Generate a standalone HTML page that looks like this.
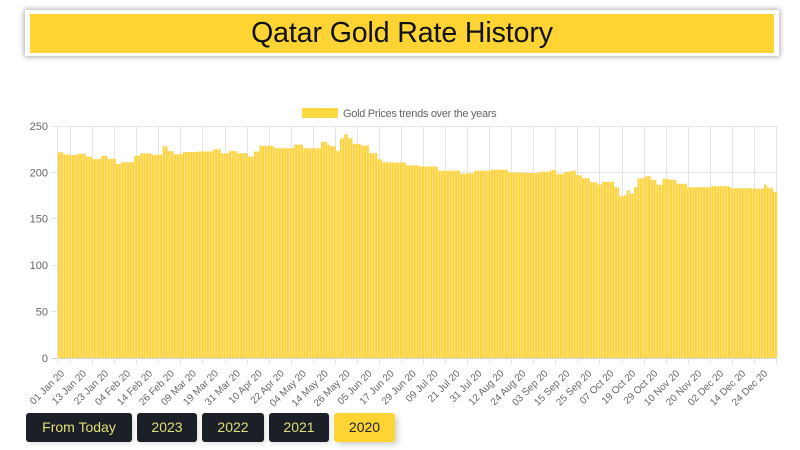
<!DOCTYPE html>
<html>
<head>
<meta charset="utf-8">
<style>
  html,body{margin:0;padding:0;background:#fff;}
  body{width:800px;height:450px;position:relative;overflow:hidden;font-family:"Liberation Sans",Arial,sans-serif;}
  .tbox{position:absolute;left:25px;top:10px;width:754px;height:46px;background:#fff;box-shadow:0 0 5px 1px rgba(0,0,0,0.32);}
  .tin{position:absolute;left:5px;top:4px;width:744px;height:38.5px;background:#fdd433;color:#111;font-size:28.5px;line-height:38px;text-align:center;letter-spacing:-0.1px;}
  .btn{position:absolute;top:413px;height:29px;line-height:29px;text-align:center;font-size:14px;border-radius:3px;background:#1b1f27;color:#e3df78;box-shadow:2px 2px 4px rgba(0,0,0,0.12);}
  .btn.on{background:#fdd433;color:#222;box-shadow:3px 3px 6px rgba(0,0,0,0.18);}
  svg{position:absolute;left:0;top:0;}
</style>
</head>
<body>
<div class="tbox"><div class="tin">Qatar Gold Rate History</div></div>

<svg width="800" height="450" viewBox="0 0 800 450" xmlns="http://www.w3.org/2000/svg">
  <defs>
    <pattern id="bars" x="57.7" y="0" width="2.757" height="20" patternUnits="userSpaceOnUse">
      <rect x="0" y="0" width="2.757" height="20" fill="#fde49a"/>
      <rect x="0.4" y="0" width="1.95" height="20" fill="#fcd43c"/>
    </pattern>
  </defs>
  <!-- legend -->
  <rect x="302" y="108" width="36" height="10" fill="#fcd843"/>
  <text x="343" y="117" font-size="11" fill="#666" font-family="Liberation Sans, Arial, sans-serif" letter-spacing="-0.3">Gold Prices trends over the years</text>

  <!-- horizontal gridlines -->
  <g stroke="#e4e4e4" stroke-width="1">
    <line x1="51" y1="126.5" x2="777" y2="126.5"/>
    <line x1="51" y1="172.5" x2="777" y2="172.5"/>
    <line x1="51" y1="218.5" x2="777" y2="218.5"/>
    <line x1="51" y1="265.5" x2="777" y2="265.5"/>
    <line x1="51" y1="311.5" x2="777" y2="311.5"/>
  </g>
  <line x1="51" y1="358.5" x2="777" y2="358.5" stroke="#d4d4d4" stroke-width="1"/>
  <!-- vertical gridlines -->
  <g stroke="#e4e4e4" stroke-width="1">
    <line x1="57.5" y1="126" x2="57.5" y2="364"/>
    <line x1="70.5" y1="126" x2="70.5" y2="364"/>
    <line x1="92.5" y1="126" x2="92.5" y2="364"/>
    <line x1="114.5" y1="126" x2="114.5" y2="364"/>
    <line x1="136.5" y1="126" x2="136.5" y2="364"/>
    <line x1="158.5" y1="126" x2="158.5" y2="364"/>
    <line x1="180.5" y1="126" x2="180.5" y2="364"/>
    <line x1="202.5" y1="126" x2="202.5" y2="364"/>
    <line x1="225.5" y1="126" x2="225.5" y2="364"/>
    <line x1="247.5" y1="126" x2="247.5" y2="364"/>
    <line x1="269.5" y1="126" x2="269.5" y2="364"/>
    <line x1="291.5" y1="126" x2="291.5" y2="364"/>
    <line x1="313.5" y1="126" x2="313.5" y2="364"/>
    <line x1="335.5" y1="126" x2="335.5" y2="364"/>
    <line x1="357.5" y1="126" x2="357.5" y2="364"/>
    <line x1="379.5" y1="126" x2="379.5" y2="364"/>
    <line x1="401.5" y1="126" x2="401.5" y2="364"/>
    <line x1="423.5" y1="126" x2="423.5" y2="364"/>
    <line x1="445.5" y1="126" x2="445.5" y2="364"/>
    <line x1="467.5" y1="126" x2="467.5" y2="364"/>
    <line x1="489.5" y1="126" x2="489.5" y2="364"/>
    <line x1="511.5" y1="126" x2="511.5" y2="364"/>
    <line x1="533.5" y1="126" x2="533.5" y2="364"/>
    <line x1="555.5" y1="126" x2="555.5" y2="364"/>
    <line x1="577.5" y1="126" x2="577.5" y2="364"/>
    <line x1="599.5" y1="126" x2="599.5" y2="364"/>
    <line x1="622.5" y1="126" x2="622.5" y2="364"/>
    <line x1="644.5" y1="126" x2="644.5" y2="364"/>
    <line x1="666.5" y1="126" x2="666.5" y2="364"/>
    <line x1="688.5" y1="126" x2="688.5" y2="364"/>
    <line x1="710.5" y1="126" x2="710.5" y2="364"/>
    <line x1="732.5" y1="126" x2="732.5" y2="364"/>
    <line x1="754.5" y1="126" x2="754.5" y2="364"/>
    <line x1="776.5" y1="126" x2="776.5" y2="364"/>
  </g>

  <!-- bars -->
  <path fill="url(#bars)" d="M57.7,358 V152.2 H63 V154.5 H70 V155.1 H77.5 V153.8 H86 V156.6 H92 V159.1 H101 V155.7 H107.5 V158.9 H116 V164 H121 V162.2 H134 V155.7 H140 V153.2 H151 V154.8 H162.5 V146.4 H167.5 V151.1 H174 V154.2 H183 V152 H197 V151.5 H213 V149.2 H221 V153.2 H229 V151.1 H237.5 V153.2 H247.5 V156.6 H254 V151.5 H259.5 V145.9 H274 V148.3 H294 V144.6 H303 V148.3 H321 V141.8 H327 V144.9 H330 V146.4 H336 V151.1 H340 V138.2 H344 V134.4 H348 V138.2 H352.5 V143.9 H361 V145.5 H369 V153.2 H377.5 V159.4 H382 V162.2 H390 V162.5 H406 V165.4 H419 V166.5 H438 V170.7 H460 V173.7 H467 V173.3 H474 V170.7 H490 V169.7 H508 V172.4 H523 V173 H540 V171.7 H550 V170.1 H556 V174.1 H564 V171.7 H570 V170.7 H576 V175.2 H582 V178.2 H590 V182.2 H597 V184.5 H602 V181.7 H614 V187.2 H619 V196.2 H624 V194.7 H627 V190.4 H630 V193.7 H634 V187.2 H637.5 V178.2 H645 V176.3 H651 V179.8 H656.5 V184.8 H662.5 V178.9 H670 V179.8 H676.5 V183.8 H687 V187.2 H711 V186.3 H730 V188.2 H754 V188.7 H764 V184.5 H767 V187.7 H773 V191.9 H777.3 V358 Z"/>

  <!-- y labels -->
  <g font-size="11" fill="#666" text-anchor="end" font-family="Liberation Sans, Arial, sans-serif">
    <text x="48" y="130">250</text>
    <text x="48" y="176.5">200</text>
    <text x="48" y="222.5">150</text>
    <text x="48" y="269">100</text>
    <text x="48" y="315.5">50</text>
    <text x="48" y="362">0</text>
  </g>

  <!-- x labels -->
  <g font-size="10" fill="#666" text-anchor="end" font-family="Liberation Sans, Arial, sans-serif">
    <text transform="translate(65,374) rotate(-45)">01 Jan 20</text>
    <text transform="translate(86.97,374) rotate(-45)">13 Jan 20</text>
    <text transform="translate(108.94,374) rotate(-45)">23 Jan 20</text>
    <text transform="translate(130.91,374) rotate(-45)">04 Feb 20</text>
    <text transform="translate(152.88,374) rotate(-45)">14 Feb 20</text>
    <text transform="translate(174.85,374) rotate(-45)">26 Feb 20</text>
    <text transform="translate(196.82,374) rotate(-45)">09 Mar 20</text>
    <text transform="translate(218.79,374) rotate(-45)">19 Mar 20</text>
    <text transform="translate(240.76,374) rotate(-45)">31 Mar 20</text>
    <text transform="translate(262.73,374) rotate(-45)">10 Apr 20</text>
    <text transform="translate(284.7,374) rotate(-45)">22 Apr 20</text>
    <text transform="translate(306.67,374) rotate(-45)">04 May 20</text>
    <text transform="translate(328.64,374) rotate(-45)">14 May 20</text>
    <text transform="translate(350.61,374) rotate(-45)">26 May 20</text>
    <text transform="translate(372.58,374) rotate(-45)">05 Jun 20</text>
    <text transform="translate(394.55,374) rotate(-45)">17 Jun 20</text>
    <text transform="translate(416.52,374) rotate(-45)">29 Jun 20</text>
    <text transform="translate(438.49,374) rotate(-45)">09 Jul 20</text>
    <text transform="translate(460.46,374) rotate(-45)">21 Jul 20</text>
    <text transform="translate(482.43,374) rotate(-45)">31 Jul 20</text>
    <text transform="translate(504.4,374) rotate(-45)">12 Aug 20</text>
    <text transform="translate(526.37,374) rotate(-45)">24 Aug 20</text>
    <text transform="translate(548.34,374) rotate(-45)">03 Sep 20</text>
    <text transform="translate(570.31,374) rotate(-45)">15 Sep 20</text>
    <text transform="translate(592.28,374) rotate(-45)">25 Sep 20</text>
    <text transform="translate(614.25,374) rotate(-45)">07 Oct 20</text>
    <text transform="translate(636.22,374) rotate(-45)">19 Oct 20</text>
    <text transform="translate(658.19,374) rotate(-45)">29 Oct 20</text>
    <text transform="translate(680.16,374) rotate(-45)">10 Nov 20</text>
    <text transform="translate(702.13,374) rotate(-45)">20 Nov 20</text>
    <text transform="translate(724.1,374) rotate(-45)">02 Dec 20</text>
    <text transform="translate(746.07,374) rotate(-45)">14 Dec 20</text>
    <text transform="translate(768.04,374) rotate(-45)">24 Dec 20</text>
  </g>
</svg>

<div class="btn" style="left:26px;width:106px;">From Today</div>
<div class="btn" style="left:137px;width:60px;">2023</div>
<div class="btn" style="left:202px;width:62px;">2022</div>
<div class="btn" style="left:269px;width:60px;">2021</div>
<div class="btn on" style="left:334px;width:61px;">2020</div>
</body>
</html>
